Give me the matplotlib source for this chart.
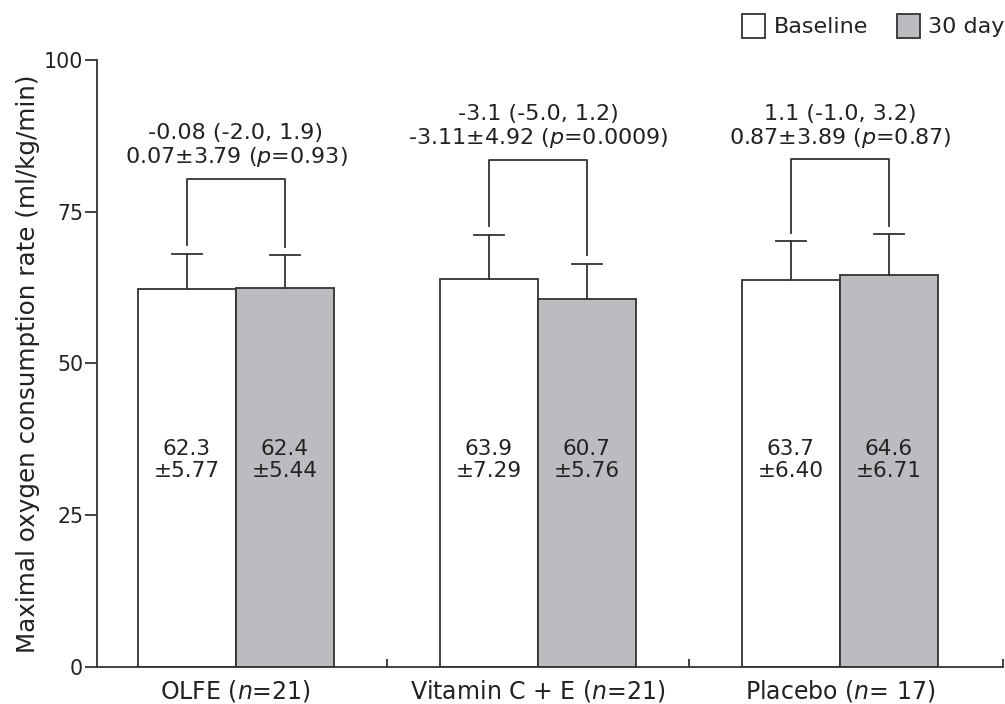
import numpy as np
import matplotlib
matplotlib.use("Agg")
import matplotlib.pyplot as plt
from matplotlib.patches import Patch

# data
groups = ["OLFE ($n$=21)", "Vitamin C + E ($n$=21)", "Placebo ($n$= 17)"]
baseline = [62.3, 63.9, 63.7]
baseline_sd = [5.77, 7.29, 6.40]
day30 = [62.4, 60.7, 64.6]
day30_sd = [5.44, 5.76, 6.71]
diff_ci = ["-0.08 (-2.0, 1.9)", "-3.1 (-5.0, 1.2)", "1.1 (-1.0, 3.2)"]
diff_p = ["0.07\u00b13.79 ($p$=0.93)", "-3.11\u00b14.92 ($p$=0.0009)", "0.87\u00b13.89 ($p$=0.87)"]

plt.rcParams['font.family'] = ['DejaVu Sans']
plt.rcParams['mathtext.fontset'] = 'dejavusans'
txt = '#222222'
edge = '#333333'
gray = '#bbbcc0'

fig = plt.figure(figsize=(10.05, 7.04), dpi=100)
ax = fig.add_axes([0.0965, 0.0526, 0.9015, 0.8622])

x = np.arange(len(groups))
w = 0.325
ax.bar(x - w/2, baseline, w, color='white', edgecolor=edge, linewidth=1.3, zorder=2)
ax.bar(x + w/2, day30, w, color=gray, edgecolor=edge, linewidth=1.3, zorder=2)

cap = 0.05
for i in range(len(groups)):
    tops = []
    for xc, m, s in [(x[i] - w/2, baseline[i], baseline_sd[i]), (x[i] + w/2, day30[i], day30_sd[i])]:
        ax.plot([xc, xc], [m, m + s], color=edge, lw=1.3, zorder=3)
        ax.plot([xc - cap, xc + cap], [m + s, m + s], color=edge, lw=1.3, zorder=3)
        tops.append(m + s)
    top = max(tops) + 12.4
    ax.plot([x[i] - w/2, x[i] - w/2, x[i] + w/2, x[i] + w/2],
            [tops[0] + 1.4, top, top, tops[1] + 1.4], color=edge, lw=1.3)
    ax.text(x[i], top + 1.5, diff_ci[i] + "\n" + diff_p[i], ha='center', va='bottom',
            fontsize=16, color=txt, linespacing=1.12)
    ax.text(x[i] - w/2, 34.1, f"{baseline[i]}\n\u00b1{baseline_sd[i]:.2f}", ha='center',
            va='center', fontsize=15.5, color=txt, linespacing=1.12, zorder=4)
    ax.text(x[i] + w/2, 34.1, f"{day30[i]}\n\u00b1{day30_sd[i]:.2f}", ha='center',
            va='center', fontsize=15.5, color=txt, linespacing=1.12, zorder=4)

ax.set_xlim(-0.46, 2.54)
ax.set_ylim(0, 100)
ax.set_yticks([0, 25, 50, 75, 100])
ax.set_xticks(x)
ax.set_xticklabels(groups)
ax.set_xticks([0.5, 1.5, 2.54], minor=True)
ax.tick_params(axis='x', which='major', length=0, pad=8, labelsize=17, labelcolor=txt)
ax.tick_params(axis='x', which='minor', direction='in', length=6, width=1.3, color=edge)
ax.tick_params(axis='y', length=9, width=1.3, color=edge, labelsize=14.8, labelcolor=txt, pad=1)
ax.set_ylabel("Maximal oxygen consumption rate (ml/kg/min)", fontsize=17.7, color=txt, labelpad=3)
for s in ['top', 'right']:
    ax.spines[s].set_visible(False)
for s in ['left', 'bottom']:
    ax.spines[s].set_color(edge)
    ax.spines[s].set_linewidth(1.3)

handles = [Patch(facecolor='white', edgecolor=edge, lw=1.3, label='Baseline'),
           Patch(facecolor=gray, edgecolor=edge, lw=1.3, label='30 day')]
fig.legend(handles=handles, loc='upper right', bbox_to_anchor=(1.006, 0.99), ncol=2,
           frameon=False, fontsize=16, handlelength=1.05, handleheight=1.3,
           handletextpad=0.36, columnspacing=1.3, borderaxespad=0.0, borderpad=0.3,
           labelcolor=txt)

fig.savefig("out.png", dpi=100)
